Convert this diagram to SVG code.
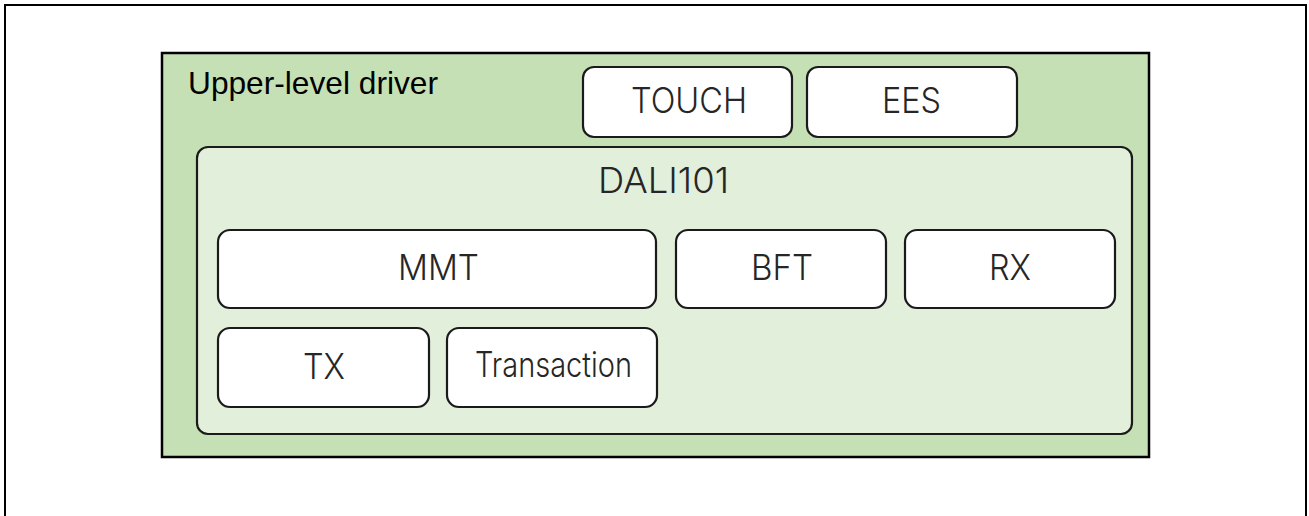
<svg xmlns="http://www.w3.org/2000/svg" width="1309" height="516" viewBox="0 0 1309 516">
<style>
.box{fill:#ffffff;stroke:#1a1a1a;stroke-width:2.2}
.lbl{font-family:"Inter","Noto Sans","Noto Sans CJK JP",sans-serif;font-weight:300;font-size:35px;fill:#262626;text-anchor:middle}
</style>
<rect x="0" y="0" width="1309" height="516" fill="#ffffff"/>
<rect id="frame" x="5" y="5" width="1301" height="530" fill="none" stroke="#000" stroke-width="2"/>
<g id="upper">
<rect x="162" y="53" width="987" height="404" fill="#c5e0b4" stroke="#000" stroke-width="2.5"/>
<text x="188" y="94" font-family="Liberation Sans, Arial, sans-serif" font-size="31.5" fill="#000" textLength="250" lengthAdjust="spacingAndGlyphs">Upper-level driver</text>
</g>
<g id="touch">
<rect class="box" x="583" y="67" width="209" height="70" rx="11"/>
<text class="lbl" x="689" y="113" textLength="116" lengthAdjust="spacingAndGlyphs">TOUCH</text>
</g>
<g id="ees">
<rect class="box" x="807" y="67" width="210" height="70" rx="11"/>
<text class="lbl" x="911.5" y="113" textLength="59" lengthAdjust="spacingAndGlyphs">EES</text>
</g>
<g id="dali101">
<rect x="197" y="147" width="935" height="287" rx="11" fill="#e2efda" stroke="#1a1a1a" stroke-width="2.2"/>
<text class="lbl" x="663.5" y="193" textLength="131" lengthAdjust="spacingAndGlyphs">DALI101</text>
</g>
<g id="mmt">
<rect class="box" x="218" y="230" width="438" height="78" rx="12"/>
<text class="lbl" x="438.5" y="280" textLength="81" lengthAdjust="spacingAndGlyphs">MMT</text>
</g>
<g id="bft">
<rect class="box" x="676" y="230" width="210" height="78" rx="12"/>
<text class="lbl" x="782" y="280" textLength="62" lengthAdjust="spacingAndGlyphs">BFT</text>
</g>
<g id="rx">
<rect class="box" x="905" y="230" width="210" height="78" rx="12"/>
<text class="lbl" x="1010" y="280" textLength="42" lengthAdjust="spacingAndGlyphs">RX</text>
</g>
<g id="tx">
<rect class="box" x="218" y="328" width="211" height="79" rx="12"/>
<text class="lbl" x="324" y="379" textLength="42" lengthAdjust="spacingAndGlyphs">TX</text>
</g>
<g id="transaction">
<rect class="box" x="447" y="328" width="210" height="79" rx="12"/>
<text class="lbl" x="553.5" y="377" font-size="27" textLength="157" lengthAdjust="spacingAndGlyphs">Transaction</text>
</g>
<g id="connectors"/>
</svg>
